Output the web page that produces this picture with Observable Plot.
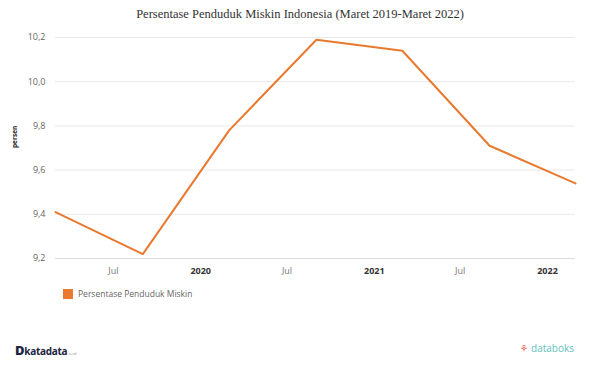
<!DOCTYPE html>
<html>
<head>
<meta charset="utf-8">
<script src="https://cdn.jsdelivr.net/npm/d3@7"></script>
<script src="https://cdn.jsdelivr.net/npm/@observablehq/plot@0.6"></script>
<style>
  html, body { margin: 0; padding: 0; background: #fff; }
  body { width: 600px; height: 383px; position: relative; overflow: hidden; font-family: "Open Sans", "DejaVu Sans", sans-serif; }
  #title { height: 28px; line-height: 28px; text-align: center; font-family: "Liberation Serif", serif; font-size: 12.5px; color: #333; }
  #legend { position: absolute; left: 63px; top: 288px; display: flex; align-items: center; font-size: 8.5px; color: #666; }
  #legend .sw { width: 10px; height: 10px; background: #EC7A2D; margin-right: 5px; }
  #logo-left { position: absolute; left: 15px; top: 341px; font-size: 10px; font-weight: bold; color: #1c2440; letter-spacing: -0.3px; }
  #logo-left .big { font-size: 13px; font-weight: 900; }
  #logo-left .small { font-size: 4px; color: #999; font-weight: normal; }
  #logo-right { position: absolute; right: 26px; top: 341px; font-size: 10px; color: #5fc2c0; }
  #logo-right .ic { color: #e8745a; font-weight: bold; }
</style>
</head>
<body>
<div id="title">Persentase Penduduk Miskin Indonesia (Maret 2019-Maret 2022)</div>
<div id="chart"></div>
<div id="legend"><div class="sw"></div><span>Persentase Penduduk Miskin</span></div>
<div id="logo-left"><span class="big">D</span>katadata<span class="small"> .co.id</span></div>
<div id="logo-right"><span class="ic">⚘</span> databoks</div>
<script>
const periods = ["2019-03-01", "2019-09-01", "2020-03-01", "2020-09-01", "2021-03-01", "2021-09-01", "2022-03-01"];
const values = [9.41, 9.22, 9.78, 10.19, 10.14, 9.71, 9.54];
const yTicks = [9.2, 9.4, 9.6, 9.8, 10.0, 10.2];
const julTicks = ["2019-07-01", "2020-07-01", "2021-07-01"];
const yearTicks = ["2020-01-01", "2021-01-01", "2022-01-01"];
const seriesName = "Persentase Penduduk Miskin";

const data = periods.map((p, i) => ({date: new Date(p + "T00:00:00Z"), value: values[i]}));
const toDate = s => new Date(s + "T00:00:00Z");
const fmtComma = d => d.toFixed(1).replace(".", ",");

const chart = Plot.plot({
  width: 600,
  height: 252,
  marginLeft: 55,
  marginRight: 25,
  marginTop: 9,
  marginBottom: 22,
  style: {fontFamily: "'Open Sans', 'DejaVu Sans', sans-serif", background: "#fff"},
  x: {type: "utc", domain: [toDate(periods[0]), toDate(periods[periods.length - 1])]},
  y: {domain: [9.2, 10.2]},
  marks: [
    Plot.gridY(yTicks.slice(1), {stroke: "#e8e8e8", strokeOpacity: 1}),
    Plot.ruleY([9.2], {stroke: "#dcdcdc"}),
    Plot.axisY(yTicks, {tickSize: 0, tickPadding: 10, tickFormat: fmtComma, fontSize: 9, fill: "#666", label: null}),
    Plot.axisX(julTicks.map(toDate), {tickSize: 0, tickPadding: 9, tickFormat: () => "Jul", fontSize: 9, fill: "#777", label: null}),
    Plot.axisX(yearTicks.map(toDate), {tickSize: 0, tickPadding: 9, tickFormat: d => String(d.getUTCFullYear()), fontSize: 9, fontWeight: "bold", fill: "#333", label: null}),
    Plot.text(["persen"], {frameAnchor: "left", dx: -41, rotate: -90, fontSize: 6.5, fontWeight: "bold", fill: "#222"}),
    Plot.line(data, {x: "date", y: "value", stroke: "#E8792F", strokeWidth: 2, title: () => seriesName})
  ]
});
document.getElementById("chart").appendChild(chart);
</script>
</body>
</html>
